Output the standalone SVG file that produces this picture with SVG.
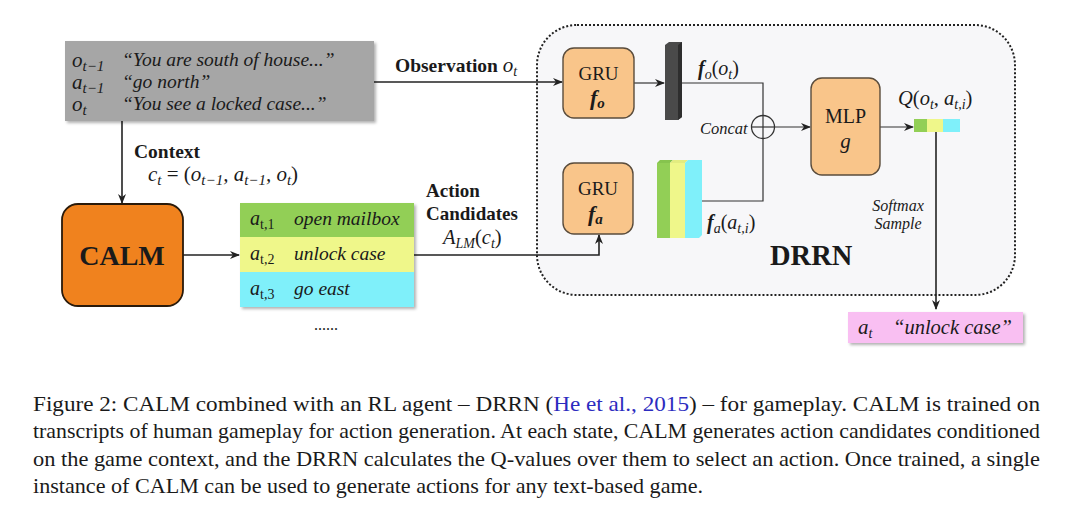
<svg xmlns="http://www.w3.org/2000/svg" width="1066" height="528" viewBox="0 0 1066 528">
<defs>
<style>
.s{font-family:"Liberation Serif","Times New Roman",serif;fill:#1a1a1a}
.i{font-style:italic}
.b{font-weight:bold}
.ln{stroke:#222;stroke-width:1.6;fill:none}
.thin{stroke:#333;stroke-width:1.2;fill:none}
.gru{fill:#f9c58a;stroke:#5a4c3c;stroke-width:1.4}
</style>
<marker id="ah" markerWidth="10" markerHeight="8" refX="9" refY="4" orient="auto" markerUnits="userSpaceOnUse">
<path d="M0,0 L10,4 L0,8 L3,4 Z" fill="#222"/>
</marker>
<filter id="sh" x="-5%" y="-10%" width="115%" height="130%">
<feDropShadow dx="2" dy="2" stdDeviation="1.5" flood-color="#000" flood-opacity="0.3"/>
</filter>
</defs>
<rect width="1066" height="528" fill="#ffffff"/>

<!-- DRRN container -->
<g id="drrn">
<rect x="537" y="25" width="478" height="270" rx="40" fill="#f7f7f9" stroke="#222" stroke-width="2" stroke-dasharray="2,2"/>
<text class="s b" x="770" y="265" font-size="28.5">DRRN</text>
</g>

<!-- connectors -->
<g id="connectors">
<line class="ln" x1="122" y1="121" x2="122" y2="203" marker-end="url(#ah)"/>
<line class="ln" x1="183" y1="255" x2="239" y2="255" marker-end="url(#ah)"/>
<line class="ln" x1="374" y1="82" x2="562" y2="82" marker-end="url(#ah)"/>
<polyline class="ln" points="414,255 599,255 599,235" marker-end="url(#ah)"/>
<line class="thin" x1="634" y1="83" x2="664" y2="83" marker-end="url(#ah)"/>
<polyline class="thin" points="682,83 763,83 763,116"/>
<polyline class="thin" points="702,201 763,201 763,138"/>
<line class="thin" x1="774" y1="127" x2="810" y2="127" marker-end="url(#ah)"/>
<line class="thin" x1="880" y1="127" x2="913" y2="127" marker-end="url(#ah)"/>
<line class="ln" x1="936" y1="132" x2="936" y2="309" marker-end="url(#ah)"/>
<circle cx="763" cy="127" r="11.5" fill="none" stroke="#333" stroke-width="1.3"/>
<line class="thin" x1="751.5" y1="127" x2="774.5" y2="127"/>
<line class="thin" x1="763" y1="115.5" x2="763" y2="138.5"/>
<text class="s i" x="700" y="134" font-size="16.5">Concat</text>
<text class="s b" x="395" y="72" font-size="19.5">Observation <tspan class="i" font-weight="normal" font-size="21">o</tspan><tspan class="i" font-weight="normal" font-size="14" dy="4">t</tspan></text>
<text class="s b" x="134" y="158" font-size="19.5">Context</text>
<text class="s i" x="148" y="181" font-size="21">c<tspan font-size="15" dy="4">t</tspan><tspan dy="-4" font-style="normal"> = (</tspan>o<tspan font-size="15" dy="4">t−1</tspan><tspan dy="-4">, a</tspan><tspan font-size="15" dy="4">t−1</tspan><tspan dy="-4">, o</tspan><tspan font-size="15" dy="4">t</tspan><tspan dy="-4" font-style="normal">)</tspan></text>
<text class="s b" x="426" y="197" font-size="19">Action</text>
<text class="s b" x="426" y="220" font-size="19">Candidates</text>
<text class="s i" x="443" y="244" font-size="20.5">A<tspan font-size="14" dy="4">LM</tspan><tspan dy="-4" font-style="normal">(</tspan>c<tspan font-size="14" dy="4">t</tspan><tspan dy="-4" font-style="normal">)</tspan></text>
<text class="s i" x="898" y="211" font-size="16" text-anchor="middle">Softmax</text>
<text class="s i" x="898" y="229" font-size="16" text-anchor="middle">Sample</text>
</g>

<!-- history box -->
<g id="history">
<rect x="65" y="41" width="309" height="80" fill="#a6a6a6" filter="url(#sh)"/>
<text class="s i" x="72" y="67" font-size="21">o<tspan font-size="15" dy="4">t−1</tspan></text>
<text class="s i" x="122" y="66" font-size="19.5">“You are south of house...”</text>
<text class="s i" x="72" y="89" font-size="21">a<tspan font-size="15" dy="4">t−1</tspan></text>
<text class="s i" x="122" y="88" font-size="19.5">“go north”</text>
<text class="s i" x="72" y="111" font-size="21">o<tspan font-size="15" dy="4">t</tspan></text>
<text class="s i" x="122" y="110" font-size="19.5">“You see a locked case...”</text>
</g>

<!-- CALM -->
<g id="calm">
<rect x="62" y="204" width="121" height="102" rx="16" fill="#f0821e" stroke="#2a1a0a" stroke-width="1.8"/>
<text class="s b" x="122" y="265" font-size="28" text-anchor="middle">CALM</text>
</g>

<!-- action list -->
<g id="actions">
<g filter="url(#sh)">
<rect x="240" y="203" width="174" height="34" fill="#92cf56"/>
<rect x="240" y="237" width="174" height="35" fill="#eff78a"/>
<rect x="240" y="272" width="174" height="35" fill="#7ff0fa"/>
</g>
<text class="s i" x="250" y="225" font-size="20">a<tspan font-size="14" dy="4" font-style="normal">t,1</tspan></text>
<text class="s i" x="294" y="225" font-size="19.5">open mailbox</text>
<text class="s i" x="250" y="260" font-size="20">a<tspan font-size="14" dy="4" font-style="normal">t,2</tspan></text>
<text class="s i" x="294" y="260" font-size="19.5">unlock case</text>
<text class="s i" x="250" y="295" font-size="20">a<tspan font-size="14" dy="4" font-style="normal">t,3</tspan></text>
<text class="s i" x="294" y="295" font-size="19.5">go east</text>
<text class="s" x="314" y="330" font-size="16">......</text>
</g>

<!-- GRU fo -->
<g id="gru-o">
<rect class="gru" x="563" y="48" width="71" height="70" rx="11"/>
<text class="s" x="598.5" y="80" font-size="19" text-anchor="middle">GRU</text>
<text class="s b i" x="590" y="105" font-size="22">f<tspan font-size="15" dy="3">o</tspan></text>
</g>

<!-- fo output bar -->
<g id="fo-bar">
<polygon points="665,45 669,42 682,42 682,117 678,120 665,120" fill="#4a4a4a"/>
<polygon points="678,45 682,42 682,117 678,120" fill="#2e2e2e"/>
<text class="s i" x="698" y="75" font-size="20"><tspan font-weight="bold">f</tspan><tspan font-size="14" dy="4">o</tspan><tspan dy="-4" font-style="normal">(</tspan>o<tspan font-size="14" dy="4">t</tspan><tspan dy="-4" font-style="normal">)</tspan></text>
</g>

<!-- GRU fa -->
<g id="gru-a">
<rect class="gru" x="563" y="163" width="70" height="71" rx="11"/>
<text class="s" x="598" y="195" font-size="19" text-anchor="middle">GRU</text>
<text class="s b i" x="588" y="221" font-size="22">f<tspan font-size="15" dy="3">a</tspan></text>
</g>

<!-- fa output bar -->
<g id="fa-bar">
<polygon points="657,163 660,160 673,160 670,163" fill="#86c44e"/>
<rect x="657" y="163" width="13" height="75" fill="#92cf56"/>
<polygon points="670,163 673,160 688,160 685,163" fill="#e3ec80"/>
<rect x="670" y="163" width="15" height="75" fill="#eff78a"/>
<polygon points="685,163 688,160 702,160 702,235 699,238 685,238" fill="#7ff0fa"/>
<text class="s i" x="707" y="229" font-size="20"><tspan font-weight="bold">f</tspan><tspan font-size="14" dy="4">a</tspan><tspan dy="-4" font-style="normal">(</tspan>a<tspan font-size="14" dy="4">t,i</tspan><tspan dy="-4" font-style="normal">)</tspan></text>
</g>

<!-- MLP -->
<g id="mlp">
<rect class="gru" x="811" y="78" width="69" height="97" rx="11"/>
<text class="s" x="845.5" y="123" font-size="20" text-anchor="middle">MLP</text>
<text class="s i" x="845.5" y="148" font-size="21" text-anchor="middle">g</text>
</g>

<!-- Q bar -->
<g id="q">
<rect x="914" y="119" width="13" height="13" fill="#92cf56"/>
<rect x="927" y="119" width="16" height="13" fill="#eff78a"/>
<rect x="943" y="119" width="17" height="13" fill="#7ff0fa"/>
<text class="s i" x="898" y="105" font-size="20.5">Q<tspan font-style="normal">(</tspan>o<tspan font-size="14" dy="4">t</tspan><tspan dy="-4" font-style="normal">, </tspan>a<tspan font-size="14" dy="4">t,i</tspan><tspan dy="-4" font-style="normal">)</tspan></text>
</g>

<!-- output action -->
<g id="output">
<rect x="848" y="312" width="175" height="31" fill="#f9bff2" filter="url(#sh)"/>
<text class="s i" x="858" y="334" font-size="21">a<tspan font-size="14" dy="4">t</tspan></text>
<text class="s i" x="893" y="334" font-size="20.5">“unlock case”</text>
</g>

<!-- caption -->
<g id="caption" class="s" font-size="21">
<text x="33" y="411" textLength="1007" lengthAdjust="spacingAndGlyphs">Figure 2:  CALM combined with an RL agent – DRRN (<tspan fill="#2c2cc0">He et al., 2015</tspan>) – for gameplay.  CALM is trained on</text>
<text x="33" y="438" textLength="1007" lengthAdjust="spacingAndGlyphs">transcripts of human gameplay for action generation.  At each state, CALM generates action candidates conditioned</text>
<text x="33" y="466" textLength="1007" lengthAdjust="spacingAndGlyphs">on the game context, and the DRRN calculates the Q-values over them to select an action.  Once trained, a single</text>
<text x="33" y="493" textLength="670" lengthAdjust="spacingAndGlyphs">instance of CALM can be used to generate actions for any text-based game.</text>
</g>
</svg>
